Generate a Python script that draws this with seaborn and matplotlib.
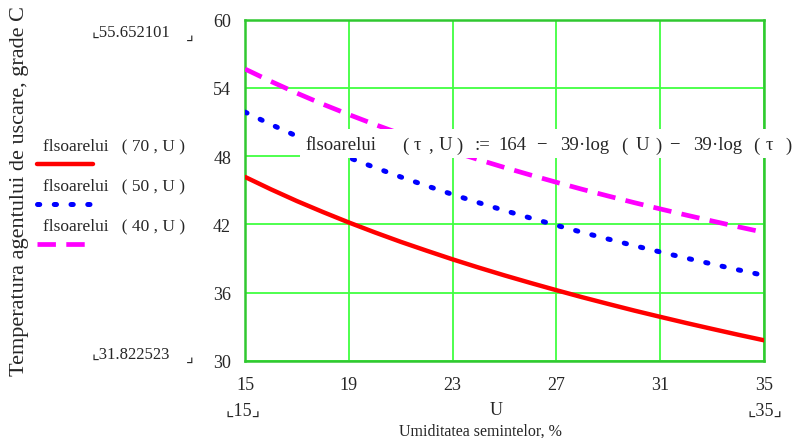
import numpy as np
import pandas as pd
import matplotlib
matplotlib.use("Agg")
import matplotlib.pyplot as plt
from matplotlib.lines import Line2D
from matplotlib.patches import Rectangle
import seaborn as sns

U = [15, 16, 17, 18, 19, 20, 21, 22, 23, 24, 25, 26, 27, 28, 29, 30, 31, 32, 33, 34, 35]
t70 = [46.17, 45.08, 44.05, 43.09, 42.17, 41.30, 40.47, 39.69, 38.93, 38.21, 37.52,
       36.86, 36.22, 35.60, 35.01, 34.43, 33.88, 33.34, 32.82, 32.31, 31.82]
t50 = [51.87, 50.78, 49.75, 48.78, 47.87, 47.00, 46.17, 45.39, 44.63, 43.91, 43.22,
       42.56, 41.92, 41.30, 40.71, 40.13, 39.58, 39.04, 38.52, 38.01, 37.52]
t40 = [55.65, 54.56, 53.53, 52.56, 51.65, 50.78, 49.95, 49.17, 48.41, 47.69, 47.00,
       46.34, 45.70, 45.08, 44.49, 43.91, 43.36, 42.82, 42.30, 41.79, 41.30]
xticks = [15, 19, 23, 27, 31, 35]
yticks = [30, 36, 42, 48, 54, 60]
legend_labels = ["flsoarelui   ( 70 , U )", "flsoarelui   ( 50 , U )", "flsoarelui   ( 40 , U )"]
formula_parts = ["flsoarelui", "(", "τ", ",", "U", ")", ":=", "164", "−", "39", "·log",
                 "(", "U", ")", "−", "39", "·log", "(", "τ", ")"]
formula_x = [305, 402, 414, 428, 439, 456, 474, 498, 536, 560, 579,
             621, 636, 655, 669, 693, 712, 753, 766, 785]

sns.set_style("white")
plt.rcParams['font.family'] = ['Liberation Serif', 'DejaVu Sans']

fig = plt.figure(figsize=(7.94, 4.39), dpi=100)
ax = fig.add_axes([245/794, 1-362/439, (764-245)/794, (362-20.5)/439])

df = pd.DataFrame({"U": U, "t70": t70, "t50": t50, "t40": t40})
RED, BLUE, MAG = "#ff0000", "#0000ff", "#ff00ff"
DOT = (0, (0.45, 2.9))
DASH = (0, (3.9, 2.2))
sns.lineplot(data=df, x="U", y="t70", ax=ax, color=RED, lw=3.2, zorder=3)
l2 = sns.lineplot(data=df, x="U", y="t50", ax=ax, color=BLUE, lw=3.6, zorder=3).lines[-1]
l2.set_linestyle(DOT)
l2.set_dash_capstyle("round")
l3 = sns.lineplot(data=df, x="U", y="t40", ax=ax, color=MAG, lw=3.4, zorder=3).lines[-1]
l3.set_linestyle(DASH)

ax.set_xlim(15, 35)
ax.set_ylim(30, 60)
ax.set_xticks(xticks)
ax.set_yticks(yticks)
ax.grid(True, color="#40ff40", lw=1.3)
for s in ax.spines.values():
    s.set_color("#30c830")
    s.set_linewidth(1.8)
ax.tick_params(length=0, labelsize=13)
ax.tick_params(axis="y", pad=10)
ax.tick_params(axis="x", pad=11)
ax.set_xticklabels([str(v) for v in xticks])
ax.set_yticklabels([str(v) for v in yticks])
ax.set_xlabel("")
ax.set_ylabel("")

def fx(px):
    return px / 794
def fy(py):
    return 1 - py / 439

fam = ['Liberation Serif', 'DejaVu Sans']
fig.text(fx(20), fy(191), "Temperatura agentului de uscare, grade C", rotation=90,
         ha="center", va="center", fontsize=16, family=fam)
fig.text(fx(480), fy(432), "Umiditatea semintelor, %", ha="center", va="center",
         fontsize=11.5, family=fam)
fig.text(fx(496), fy(411), "U", ha="center", va="center", fontsize=13, family=fam)
fig.text(fx(92), fy(33), "⌞55.652101", ha="left", va="center", fontsize=12, family=fam)
fig.text(fx(190), fy(36), "⌟", ha="center", va="center", fontsize=12, family=fam)
fig.text(fx(92), fy(355), "⌞31.822523", ha="left", va="center", fontsize=12, family=fam)
fig.text(fx(190), fy(358), "⌟", ha="center", va="center", fontsize=12, family=fam)
fig.text(fx(243), fy(411), "⌞15⌟", ha="center", va="center", fontsize=13, family=fam)
fig.text(fx(765), fy(411), "⌞35⌟", ha="center", va="center", fontsize=13, family=fam)

# legend
ys = [146, 186, 226]
styles = [dict(color=RED, lw=3.2, ls="-"),
          dict(color=BLUE, lw=3.6, ls=DOT, dash_capstyle="round"),
          dict(color=MAG, lw=3.4, ls=DASH)]
for y, lab, st in zip(ys, legend_labels, styles):
    fig.text(fx(43), fy(y), lab, ha="left", va="center", fontsize=12.5, family=fam)
    fig.add_artist(Line2D([fx(37), fx(93)], [fy(y + 19), fy(y + 19)], **st))

# formula box
fig.add_artist(Rectangle((fx(300), fy(159)), fx(794) - fx(300), fy(130) - fy(159),
                         transform=fig.transFigure, facecolor="white",
                         edgecolor="none", zorder=4))
for part, px in zip(formula_parts, formula_x):
    fig.text(fx(px), fy(146), part, ha="left", va="center", fontsize=13.5,
             family=fam, zorder=5)

fig.savefig("out.png", dpi=100)
